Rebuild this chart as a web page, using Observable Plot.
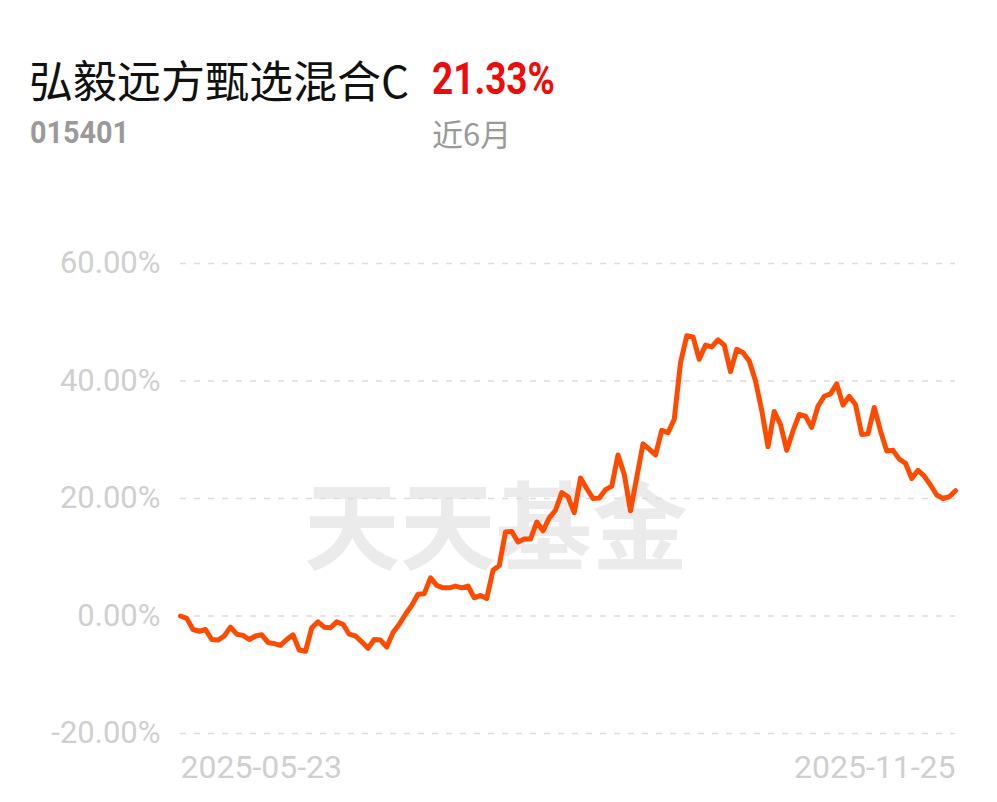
<!DOCTYPE html>
<html>
<head>
<meta charset="utf-8">
<script src="https://cdn.jsdelivr.net/npm/d3@7"></script>
<script src="https://cdn.jsdelivr.net/npm/@observablehq/plot@0.6"></script>
<style>
  html, body { margin: 0; padding: 0; background: #fff; }
  #wrap { position: relative; width: 997px; height: 802px; overflow: hidden; }
  #chart { position: absolute; left: 0; top: 0; }
  .t { position: absolute; white-space: nowrap; }
  #name { left: 29px; top: 52px; font: 400 44px "Noto Sans CJK SC", sans-serif; color: #111; line-height: 54px; }
  #ret { left: 432px; top: 53px; font: 700 44px Roboto, sans-serif; color: #ee0b0b; line-height: 52px; transform: scaleX(0.84); transform-origin: left center; }
  #code { left: 30px; top: 112px; font: 700 32px Roboto, sans-serif; color: #9a9a9a; line-height: 40px; transform: scaleX(0.9); transform-origin: left center; }
  #period { left: 432px; top: 112px; font: 400 31px "Noto Sans CJK SC", sans-serif; color: #9a9a9a; line-height: 42px; }
</style>
</head>
<body>
<div id="wrap">
  <div id="chart"></div>
  <div class="t" id="name"></div>
  <div class="t" id="ret"></div>
  <div class="t" id="code"></div>
  <div class="t" id="period"></div>
</div>
<script>
const fundName = "弘毅远方甄选混合C";
const fundCode = "015401";
const returnText = "21.33%";
const periodText = "近6月";
const watermark = "天天基金";

const xTickLabels = ["2025-05-23", "2025-11-25"];
const yTicks = [-20, 0, 20, 40, 60];

// cumulative return (%) per trading day
const returns = [
  0, -0.4, -2.3, -2.6, -2.3, -4.0, -4.1, -3.4, -1.9, -3.1,
  -3.3, -4.0, -3.4, -3.2, -4.5, -4.7, -5.0, -4.0, -3.2, -5.8,
  -6.0, -2.0, -1.0, -1.9, -2.0, -1.0, -1.4, -3.1, -3.4, -4.4,
  -5.5, -4.0, -4.1, -5.3, -2.8, -1.4, 0.3, 1.8, 3.7, 3.8,
  6.5, 5.2, 4.8, 4.8, 5.1, 4.8, 5.1, 3.1, 3.5, 3.0,
  7.8, 8.6, 14.3, 14.4, 12.6, 13.1, 13.1, 16.0, 14.5, 16.7,
  18.0, 21.0, 20.3, 17.6, 23.5, 21.7, 20.0, 20.1, 21.5, 22.1,
  27.4, 24.1, 17.9, 23.6, 29.3, 28.4, 27.4, 31.6, 31.2, 33.5,
  43.1, 47.7, 47.5, 43.7, 46.1, 45.8, 47.0, 46.1, 41.6, 45.4,
  44.8, 43.4, 40.0, 35.0, 28.8, 34.8, 32.6, 28.2, 31.5, 34.3,
  34.0, 32.1, 35.7, 37.4, 37.8, 39.5, 35.9, 37.4, 36.0, 30.9,
  31.0, 35.5, 31.5, 28.1, 28.2, 26.7, 26.0, 23.4, 24.8, 23.8,
  22.3, 20.6, 20.0, 20.3, 21.33
];

document.getElementById("name").textContent = fundName;
document.getElementById("ret").textContent = returnText;
document.getElementById("code").textContent = fundCode;
document.getElementById("period").textContent = periodText;

const data = returns.map((v, i) => ({i, v}));
const lastIndex = returns.length - 1;

const chart = Plot.plot({
  width: 997,
  height: 802,
  marginLeft: 180,
  marginRight: 42,
  marginTop: 263,
  marginBottom: 69,
  style: {fontFamily: "Roboto, sans-serif", background: "transparent"},
  x: {domain: [0, lastIndex], axis: null},
  y: {domain: [-20, 60], axis: null},
  marks: [
    Plot.text([watermark], {
      text: d => d, frameAnchor: "middle", dx: -72, dy: 33,
      fontSize: 96, fontWeight: 700, fill: "#ebebeb",
      fontFamily: "'Noto Sans CJK SC', sans-serif"
    }),
    Plot.gridY(yTicks, {stroke: "#dcdcdc", strokeOpacity: 1, strokeWidth: 1.5, strokeDasharray: "6,8"}),
    Plot.axisY(yTicks, {
      tickSize: 0, tickPadding: 20, fontSize: 31, fill: "#cfcfcf",
      tickFormat: d => d.toFixed(2) + "%", label: null
    }),
    Plot.axisX([0], {
      tickSize: 0, tickPadding: 22, fontSize: 32, fill: "#cfcfcf",
      textAnchor: "start", tickFormat: () => xTickLabels[0], label: null
    }),
    Plot.axisX([lastIndex], {
      tickSize: 0, tickPadding: 22, fontSize: 32, fill: "#cfcfcf",
      textAnchor: "end", tickFormat: () => xTickLabels[1], label: null
    }),
    Plot.line(data, {
      x: "i", y: "v", stroke: "#ff4b00", strokeWidth: 5,
      strokeLinejoin: "round", strokeLinecap: "round"
    })
  ]
});
document.getElementById("chart").appendChild(chart);
</script>
</body>
</html>
